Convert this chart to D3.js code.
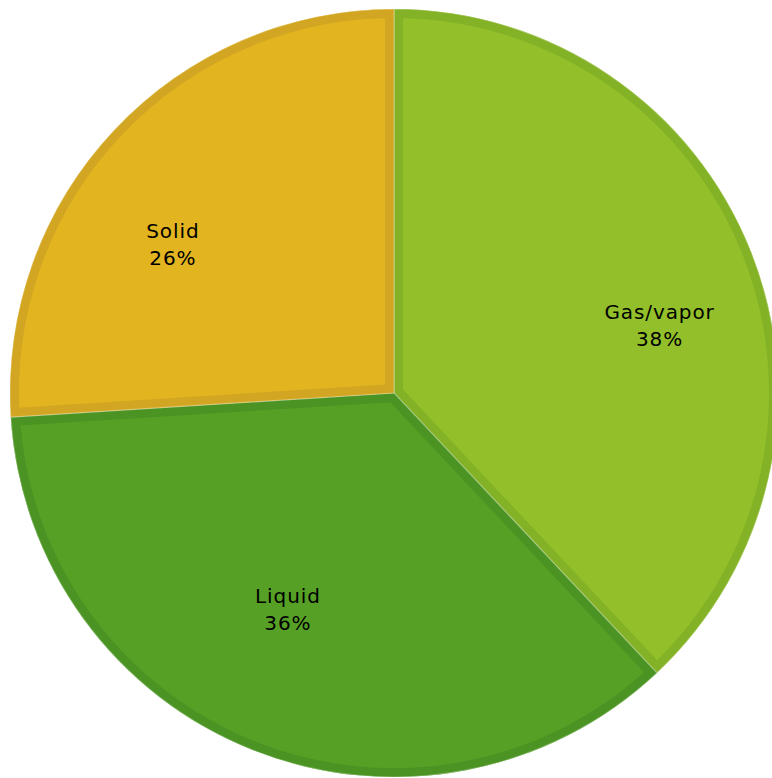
<!DOCTYPE html>
<html>
<head>
<meta charset="utf-8">
<script src="https://cdn.jsdelivr.net/npm/d3@7"></script>
<style>
  html, body { margin: 0; padding: 0; background: #ffffff; }
  svg { display: block; }
</style>
</head>
<body>
<svg id="chart" width="772" height="778"></svg>
<script>
// Phase of the material, share of total
const categories = ["Gas/vapor", "Liquid", "Solid"];
const shares = [38, 36, 26];
const fills = ["#93c02a", "#56a026", "#e2b520"];
const edges = ["#84b226", "#4b9423", "#d2a622"];

const W = 772, H = 778;
const cx = 394, cy = 393, R = 384;
// label placement: angle shift (degrees) from slice middle and radius fraction
const labelShift = [7.5, 4.5, -9.4];
const labelRadius = [0.713, 0.628, 0.693];

const svg = d3.select("#chart");
const g = svg.append("g").attr("transform", `translate(${cx},${cy})`);

const pie = d3.pie().sort(null).value(d => d)(shares);
const arc = d3.arc().innerRadius(0).outerRadius(R);

const defs = svg.append("defs");
pie.forEach((p, i) => {
  defs.append("clipPath").attr("id", "clip" + i)
    .append("path").attr("d", arc(p));
});

const slices = g.selectAll("g.slice").data(pie).join("g").attr("class", "slice");

// main fill
slices.append("path")
  .attr("d", arc)
  .attr("fill", (d, i) => fills[i]);

// darker inner band along each slice edge
slices.append("path")
  .attr("d", arc)
  .attr("fill", "none")
  .attr("stroke", (d, i) => edges[i])
  .attr("stroke-width", 18)
  .attr("stroke-linejoin", "miter")
  .attr("clip-path", (d, i) => `url(#clip${i})`);

// thin light seam between slices
slices.append("path")
  .attr("d", arc)
  .attr("fill", "none")
  .attr("stroke", "rgba(255,255,255,0.3)")
  .attr("stroke-width", 1.2);

// labels
const labels = g.selectAll("text.lbl").data(pie).join("text")
  .attr("class", "lbl")
  .attr("text-anchor", "middle")
  .attr("font-family", "'DejaVu Sans', Verdana, sans-serif")
  .attr("font-size", 20)
  .attr("letter-spacing", 0.9)
  .attr("fill", "#000000")
  .attr("transform", (d, i) => {
    const a = (d.startAngle + d.endAngle) / 2 + labelShift[i] * Math.PI / 180;
    const r = R * labelRadius[i];
    return `translate(${r * Math.sin(a)},${-r * Math.cos(a)})`;
  });

labels.append("tspan").attr("x", 0).attr("y", -7).text((d, i) => categories[i]);
labels.append("tspan").attr("x", 0).attr("y", 20).text((d, i) => shares[i] + "%");
</script>
</body>
</html>
